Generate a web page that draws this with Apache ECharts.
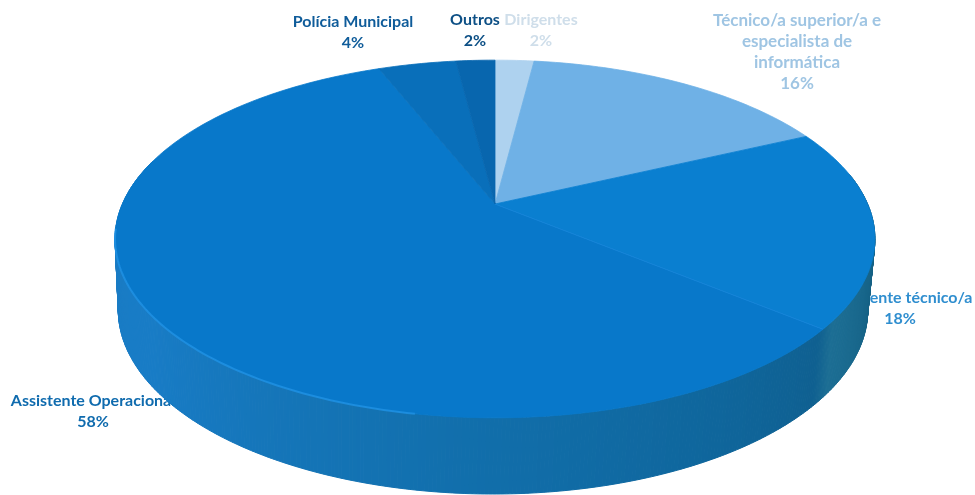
<!DOCTYPE html>
<html>
<head>
<meta charset="utf-8">
<style>html,body{margin:0;padding:0;background:#fff}#chart{width:975px;height:495px}</style>
<script src="https://cdn.jsdelivr.net/npm/echarts@6/dist/echarts.min.js"></script>
</head>
<body>
<div id="chart"></div>
<script>
// Staff by job category, shown as a tilted pie with a solid rim.
const categories = ['Dirigentes', 'Técnico/a superior/a e\nespecialista de\ninformática', 'Assistente técnico/a', 'Assistente Operacional', 'Polícia Municipal', 'Outros'];
const values = [2, 16, 18, 58, 4, 2];
const topColors = ['#aed2ef', '#6fb1e6', '#0a7fd0', '#0878ca', '#096fba', '#0866ae'];
const labelColors = ['#cfdeea', '#9fc5e3', '#2f8ecf', '#0f6bae', '#0f5c9a', '#0c4f85'];
const labelSpots = [[541, 30], [797, 52], [900, 308], [93, 411], [353, 32], [475, 30]];
const labelSizes = [16, 17, 16, 16, 16, 16];

// Perspective of the disc: top face and base, sharing one foreshortening factor.
const KEEP = 0.1955;
const topFace = { x0: 495, y0: 204, a: 172, b: 372.6 };
const baseFace = { x0: 493, y0: 274, a: 177, b: 367.5 };

// Rim shade by angle, clockwise from twelve o'clock.
const wallStops = [
  [90, [16, 88, 122]], [127, [28, 110, 148]], [131, [15, 96, 145]], [150, [15, 102, 156]],
  [180, [17, 110, 170]], [235, [24, 124, 198]], [275, [26, 124, 196]]
];

function project(face, deg) {
  const t = deg * Math.PI / 180, u = Math.sin(t), v = Math.cos(t), w = 1 + KEEP * v;
  return [face.x0 + face.b * u / w, face.y0 - face.a * v / w];
}
function wallColor(deg) {
  const s = wallStops;
  if (deg <= s[0][0]) return 'rgb(' + s[0][1].join(',') + ')';
  for (let i = 1; i < s.length; i++) {
    if (deg <= s[i][0]) {
      const f = (deg - s[i - 1][0]) / (s[i][0] - s[i - 1][0]);
      const c = s[i][1].map((x, k) => Math.round(s[i - 1][1][k] + (x - s[i - 1][1][k]) * f));
      return 'rgb(' + c.join(',') + ')';
    }
  }
  return 'rgb(' + s[s.length - 1][1].join(',') + ')';
}
const total = values.reduce((a, b) => a + b, 0);
function sliceAngles(i) {
  let before = 0;
  for (let k = 0; k < i; k++) before += values[k];
  return [before / total * 360, (before + values[i]) / total * 360];
}

function renderWall(params) {
  const [from, to] = sliceAngles(params.dataIndex);
  const children = [];
  for (let d = from; d < to; d += 0.5) {
    const e = Math.min(d + 0.5, to);
    if (e < 80 || d > 285) continue;
    const color = wallColor((d + e) / 2);
    children.push({
      type: 'polygon',
      shape: { points: [project(topFace, d), project(topFace, e), project(baseFace, e), project(baseFace, d)] },
      style: { fill: color, stroke: color, lineWidth: 1 }
    });
  }
  return { type: 'group', silent: true, children };
}

function renderTop(params) {
  const i = params.dataIndex;
  const [from, to] = sliceAngles(i);
  const pts = [[topFace.x0, topFace.y0]];
  for (let d = from; d < to; d += 1) pts.push(project(topFace, d));
  pts.push(project(topFace, to));
  const children = [{
    type: 'polygon',
    shape: { points: pts },
    style: { fill: topColors[i], stroke: topColors[i], lineWidth: 0.8 }
  }];
  // Bevel catching the light along the front-left rim of the largest slice.
  if (values[i] === Math.max.apply(null, values)) {
    const rim = [];
    for (let d = 190; d <= 262; d += 1) rim.push(project(topFace, d));
    children.push({
      type: 'polyline', shape: { points: rim },
      style: { fill: null, stroke: '#2496e8', lineWidth: 2, opacity: 0.7 }
    });
    children.push({
      type: 'line',
      shape: { x1: topFace.x0, y1: topFace.y0, x2: pts[1][0], y2: pts[1][1] },
      style: { stroke: '#1d8ae0', lineWidth: 1.2, opacity: 0.6 }
    });
  }
  return { type: 'group', silent: true, children };
}

function renderLabel(params) {
  const i = params.dataIndex;
  return {
    type: 'text', silent: true,
    style: {
      text: categories[i] + '\n' + values[i] + '%',
      x: labelSpots[i][0], y: labelSpots[i][1],
      align: 'center', verticalAlign: 'middle',
      font: 'bold ' + labelSizes[i] + 'px Lato', lineHeight: 21, fill: labelColors[i]
    }
  };
}

const rows = values.map(v => [v]);
const chart = echarts.init(document.getElementById('chart'), null, { renderer: 'canvas' });
chart.setOption({
  backgroundColor: '#ffffff',
  animation: false,
  series: [
    { type: 'custom', coordinateSystem: 'none', z: 1, data: rows, renderItem: renderLabel },
    { type: 'custom', coordinateSystem: 'none', z: 2, data: rows, renderItem: renderWall },
    { type: 'custom', coordinateSystem: 'none', z: 3, data: rows, renderItem: renderTop }
  ]
});
</script>
</body>
</html>
